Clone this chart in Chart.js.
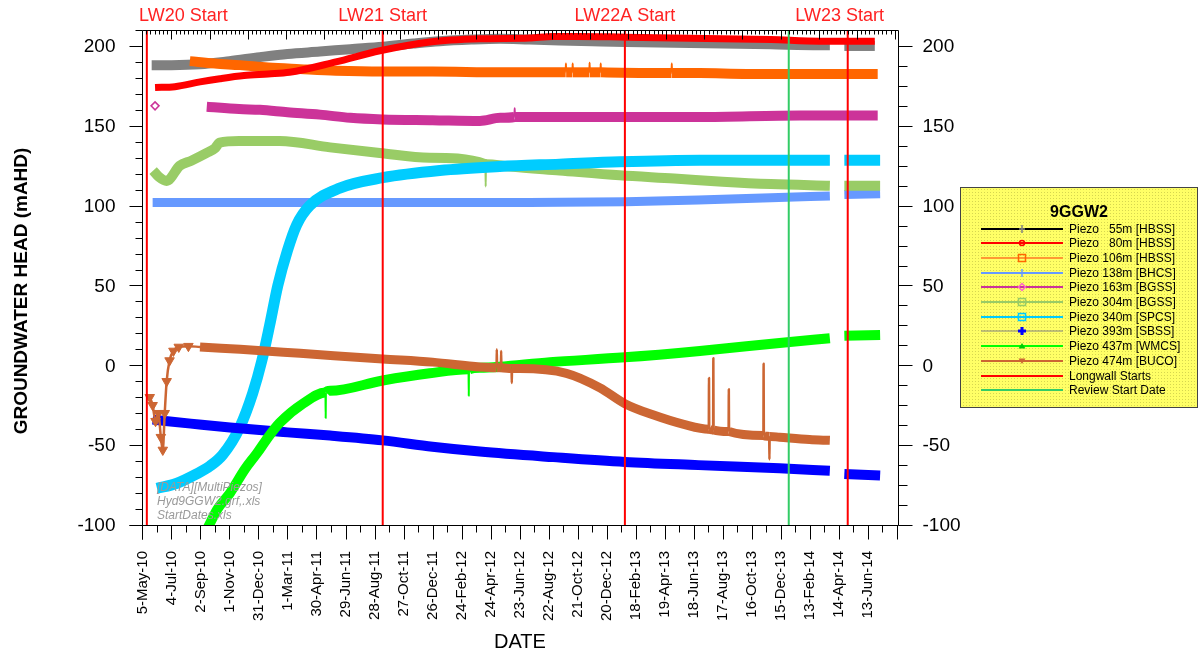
<!DOCTYPE html>
<html lang="en">
<head>
<meta charset="UTF-8">
<title>9GGW2 groundwater head</title>
<script src="https://cdn.jsdelivr.net/npm/chart.js@4.4.0/dist/chart.umd.min.js"></script>
<style>
  html, body { margin: 0; padding: 0; background: #fff; }
  #wrap { width: 1200px; height: 657px; }
</style>
</head>
<body>
<div id="wrap"><canvas id="myChart" width="1200" height="657"></canvas></div>
<script>
// x values are days after 5-May-10, y values are head in mAHD
const dateLabels = ['5-May-10', '4-Jul-10', '2-Sep-10', '1-Nov-10', '31-Dec-10', '1-Mar-11', '30-Apr-11', '29-Jun-11',
  '28-Aug-11', '27-Oct-11', '26-Dec-11', '24-Feb-12', '24-Apr-12', '23-Jun-12', '22-Aug-12', '21-Oct-12', '20-Dec-12',
  '18-Feb-13', '19-Apr-13', '18-Jun-13', '17-Aug-13', '16-Oct-13', '15-Dec-13', '13-Feb-14', '14-Apr-14', '13-Jun-14'];
const dateStep = 60;
const headTicks = [-100, -50, 0, 50, 100, 150, 200];

const p55Day = [19, 60, 119, 180, 243, 300, 367, 430, 497, 560, 615, 680, 740, 800, 863, 930, 1000, 1100, 1200, 1300, 1400, 1422, 1437, 1452, 1515];
const p55Head = [188, 188, 188.5, 190.5, 193, 195, 196.5, 198, 199.5, 201.5, 203, 204, 204.5, 204, 203.5, 203, 202.5, 202, 201.5, 201, 200.5, 200.5, null, 200, 200];

const p80Day = [26, 67, 119, 160, 210, 260, 304, 400, 491, 594, 698, 800, 849, 900, 1000, 1100, 1200, 1300, 1400, 1450, 1515];
const p80Head = [174, 174.5, 177.5, 179.5, 181.5, 182.5, 183.5, 190, 197, 202.5, 204.5, 205, 206, 206, 205.5, 205, 204.5, 204, 203, 203, 203];

const p106Day = [98, 150, 202, 260, 326, 400, 497, 600, 739, 875.5, 876, 876.5, 889.5, 890, 890.5, 924.5, 925, 925.5,
  947.5, 948, 948.5, 1094.5, 1095, 1095.5, 1153, 1250, 1360, 1450, 1521];
const p106Head = [190.5, 189, 188, 186.5, 185.5, 184.5, 184, 184, 183.5, 183.5, 189, 183.5, 183.5, 189, 183.5, 183.5, 189.5, 183.5,
  183.5, 189, 183.5, 183, 189, 183, 183, 182.5, 182.5, 182.5, 182.5];

const p138Day = [21, 200, 400, 600, 800, 1000, 1150, 1300, 1422, 1437, 1452, 1526];
const p138Head = [102, 102, 102, 102, 102, 102.5, 103.5, 105, 106, null, 107, 107.5];

const p163Day = [26, 80, 133, 200, 243, 300, 367, 430, 497, 600, 698, 740, 769.5, 770, 770.5, 800, 946, 1153, 1360, 1521];
const p163Head = [162.5, null, 162, 160.5, 160, 158.5, 157, 155, 154, 153.5, 153, 155, 155.5, 161, 155.5, 155.5, 155.5, 155.5, 156.5, 156.5];

const p304Day = [22, 34, 50, 77, 100, 133, 150, 160, 200, 284, 388, 491, 594, 709.5, 710, 710.5, 760, 863, 987, 1100, 1200, 1300, 1422, 1437, 1452, 1526];
const p304Head = [122, 118, 115.5, 125, 128, 133, 136, 139.5, 140.5, 140.5, 136.5, 133, 130, 126, 112, 126, 124.5, 122, 119, 117, 115, 113.5, 112.5, null, 112.5, 112.5];

const p340Day = [30, 70, 112, 140, 166, 201, 228, 247, 263, 280, 300, 319, 346, 408, 497, 615, 739, 863, 987, 1153, 1300, 1422, 1437, 1452, 1526];
const p340Head = [-77, -74, -68, -63, -56, -39, -17.5, 3, 25, 50, 72, 88, 100, 111, 117.5, 122, 124.5, 126, 127.5, 128.5, 128.5, 128.5, null, 128.5, 128.5];

const p393Day = [21, 100, 181, 300, 388, 497, 600, 698, 850, 998, 1150, 1318, 1422, 1437, 1452, 1526];
const p393Head = [-34, -36.5, -39, -42, -44, -47, -51, -54, -57.5, -60.5, -62.5, -64.5, -66, null, -68, -69];

const p437Day = [133, 155, 181, 212, 237, 260, 284, 332, 378.5, 379, 379.5, 388, 497, 594, 674.5, 675, 675.5, 698, 843, 998, 1153, 1318, 1422, 1437, 1452, 1526];
const p437Head = [-103, -90, -80, -65, -55, -45, -36, -24, -17, -33, -17, -16, -9.5, -5, -2.5, -19, -2.5, -1.5, 2, 5, 9, 14, 17, null, 18.5, 19];

const p474Day = [15, 21, 27, 33, 38, 42, 46, 50, 56, 64, 75, 95, 119, 202, 326, 497, 600, 698, 732.5, 733, 733.5, 741.5, 742, 742.5,
  763.5, 764, 764.5, 781, 877, 946, 998, 1056, 1120, 1171.5, 1172, 1172.5, 1180.5, 1181, 1181.5, 1212.5, 1213, 1213.5,
  1284.5, 1285, 1285.5, 1296.5, 1297, 1297.5, 1318, 1380, 1422];
const p474Head = [-20, -25, -35, -30, -45, -53, -30, -10, 3, 9, 11.5, 12, 11.5, 10, 7.5, 4, 2, -1, -1.5, 10, -1.5, -1.5, 9, -1.5,
  -2, -11, -2, -2, -5, -14, -24, -31, -37, -40, -8, -40, -40.5, 4.5, -40.5, -41.5, -15, -41.5,
  -44, 1, -44, -44.5, -59, -44.5, -45, -46.5, -47];

const longwallNames = ['LW20 Start', 'LW21 Start', 'LW22A Start', 'LW23 Start'];
const longwallDay = [9, 497, 998, 1459];
const reviewDay = 1337;

const seriesNames = ['Piezo   55m [HBSS]', 'Piezo   80m [HBSS]', 'Piezo 106m [HBSS]', 'Piezo 138m [BHCS]', 'Piezo 163m [BGSS]',
  'Piezo 304m [BGSS]', 'Piezo 340m [SPCS]', 'Piezo 393m [SBSS]', 'Piezo 437m [WMCS]', 'Piezo 474m [BUCO]'];

const pts = (days, heads) => days.map((d, i) => ({ x: d, y: heads[i] }));
const FONT = "Arial, 'Liberation Sans', sans-serif";

// thin strokes for spikes (near-vertical segments), band elsewhere
function series(label, days, heads, color, width, order, extra) {
  return Object.assign({
    label: label,
    data: pts(days, heads),
    borderColor: color,
    backgroundColor: color,
    borderWidth: width,
    borderJoinStyle: 'round',
    pointRadius: 0,
    spanGaps: false,
    cubicInterpolationMode: 'monotone',
    order: order,
    segment: {
      borderWidth: c => Math.abs(c.p1.parsed.x - c.p0.parsed.x) <= 0.6 ? 2 : undefined
    }
  }, extra || {});
}

function vline(day, color) {
  return {
    data: [{ x: day, y: -100 }, { x: day, y: 210 }],
    borderColor: color, borderWidth: 2, pointRadius: 0, order: 0
  };
}

const datasets = [
  series(seriesNames[0], p55Day, p55Head, '#808080', 10, 7),
  series(seriesNames[1], p80Day, p80Head, '#ff0000', 7, 1),
  series(seriesNames[2], p106Day, p106Head, '#ff6600', 10, 6),
  series(seriesNames[3], p138Day, p138Head, '#6699ff', 9, 10),
  series(seriesNames[4], p163Day, p163Head, '#cc3399', 10, 8, {
    pointRadius: c => c.dataIndex === 0 ? 4 : 0,
    pointStyle: 'rectRot', pointBackgroundColor: '#fff', pointBorderColor: '#cc3399', pointBorderWidth: 1.5
  }),
  series(seriesNames[5], p304Day, p304Head, '#99cc66', 10, 9),
  series(seriesNames[6], p340Day, p340Head, '#00ccff', 11, 5),
  series(seriesNames[7], p393Day, p393Head, '#0000ff', 10, 4),
  series(seriesNames[8], p437Day, p437Head, '#00ff00', 10, 3),
  series(seriesNames[9], p474Day, p474Head, '#cc6633', 9, 2, {
    segment: {
      borderWidth: c => (c.p0.parsed.x < 100 || Math.abs(c.p1.parsed.x - c.p0.parsed.x) <= 0.6) ? 2.5 : undefined
    },
    pointRadius: c => { const v = c.raw; return v && v.x < 100 ? 5.5 : 0; },
    pointBorderWidth: 1,
    pointBackgroundColor: '#cc6633',
    pointStyle: 'triangle', rotation: 180
  })
];
longwallDay.forEach(d => datasets.push(vline(d, '#ff0000')));
datasets.push(vline(reviewDay, '#33cc66'));

// legend marker styles (drawn by hand)
const legendStyle = [
  { line: '#000000', w: 2, mark: 'plus', mc: '#808080' },
  { line: '#ff0000', w: 2, mark: 'dot', mc: '#ff0000' },
  { line: '#ff9933', w: 2, mark: 'square', mc: '#ff6600' },
  { line: '#6699ff', w: 2, mark: 'plus', mc: '#6699ff' },
  { line: '#cc3399', w: 2, mark: 'diamond', mc: '#ff66cc' },
  { line: '#99cc66', w: 2, mark: 'square', mc: '#99cc66' },
  { line: '#00ccff', w: 2, mark: 'square', mc: '#00ccff' },
  { line: '#808080', w: 1, mark: 'cross', mc: '#0000ff' },
  { line: '#00ff00', w: 2, mark: 'tri', mc: '#00cc00' },
  { line: '#cc6633', w: 2, mark: 'tridown', mc: '#cc6633' }
];

function drawMark(ctx, kind, x, y, c) {
  ctx.save();
  ctx.strokeStyle = c; ctx.fillStyle = c; ctx.lineWidth = 1.5;
  ctx.beginPath();
  if (kind === 'plus') {
    ctx.moveTo(x - 3, y); ctx.lineTo(x + 3, y); ctx.moveTo(x, y - 4); ctx.lineTo(x, y + 4); ctx.stroke();
  } else if (kind === 'dot') {
    ctx.arc(x, y, 2.5, 0, Math.PI * 2); ctx.stroke();
  } else if (kind === 'square') {
    ctx.rect(x - 3.5, y - 3.5, 7, 7); ctx.stroke();
  } else if (kind === 'diamond') {
    ctx.moveTo(x, y - 3.5); ctx.lineTo(x + 3.5, y); ctx.lineTo(x, y + 3.5); ctx.lineTo(x - 3.5, y); ctx.closePath(); ctx.stroke();
  } else if (kind === 'cross') {
    ctx.lineWidth = 3; ctx.moveTo(x - 4, y); ctx.lineTo(x + 4, y); ctx.moveTo(x, y - 4); ctx.lineTo(x, y + 4); ctx.stroke();
  } else if (kind === 'tri') {
    ctx.moveTo(x, y - 3); ctx.lineTo(x + 3.5, y + 2.5); ctx.lineTo(x - 3.5, y + 2.5); ctx.closePath(); ctx.fill();
  } else if (kind === 'tridown') {
    ctx.moveTo(x, y + 3); ctx.lineTo(x + 3.5, y - 2.5); ctx.lineTo(x - 3.5, y - 2.5); ctx.closePath(); ctx.fill();
  }
  ctx.restore();
}

const frame = {
  id: 'frame',
  afterDraw(chart) {
    const { ctx, chartArea: a, scales } = chart;
    const x = scales.x, y = scales.y;
    const L = Math.round(a.left) + 0.5, R = Math.round(a.right) + 0.5;
    const T = Math.round(a.top) + 0.5, B = Math.round(a.bottom) + 0.5;
    ctx.save();
    ctx.strokeStyle = '#000';
    ctx.lineWidth = 1;
    ctx.beginPath();
    ctx.moveTo(L - 13, B); ctx.lineTo(R, B);
    ctx.moveTo(L, T); ctx.lineTo(R, T);
    ctx.moveTo(L, T); ctx.lineTo(L, B + 14);
    ctx.moveTo(R, T); ctx.lineTo(R, B);
    // bottom ticks
    for (let d = 0; d <= 1560; d += dateStep / 2) {
      const px = Math.round(x.getPixelForValue(d)) + 0.5;
      ctx.moveTo(px, B); ctx.lineTo(px, B + (d % dateStep === 0 ? 14 : 7));
    }
    // top ticks, inward
    for (let k = 0; ; k++) {
      const d = -18.75 + k * 8.75;
      if (d > 1563) break;
      const px = Math.round(x.getPixelForValue(d)) + 0.5;
      if (px <= L + 1 || px >= R - 1) continue;
      ctx.moveTo(px, T); ctx.lineTo(px, T + (k % 9 === 0 ? 9 : 4));
    }
    // left ticks
    for (let v = -100; v <= 210; v += 10) {
      const py = Math.round(y.getPixelForValue(v)) + 0.5;
      ctx.moveTo(L, py); ctx.lineTo(L - (v % 50 === 0 ? 13 : 7), py);
    }
    // right ticks
    for (let v = -100; v <= 210; v += 12.5) {
      const py = Math.round(y.getPixelForValue(v)) + 0.5;
      ctx.moveTo(R, py); ctx.lineTo(R + (v % 50 === 0 ? 14 : 9), py);
    }
    ctx.stroke();

    // head tick labels on both sides
    ctx.font = '19px ' + FONT;
    ctx.fillStyle = '#000';
    ctx.textBaseline = 'middle';
    headTicks.forEach(v => {
      const py = y.getPixelForValue(v);
      ctx.textAlign = 'right';
      ctx.fillText(String(v), L - 27, py + 1);
      ctx.textAlign = 'left';
      ctx.fillText(String(v), R + 24, py + 1);
    });

    // axis title
    ctx.save();
    ctx.translate(22, 291);
    ctx.rotate(-Math.PI / 2);
    ctx.textAlign = 'center';
    ctx.font = 'bold 19px ' + FONT;
    ctx.fillText('GROUNDWATER HEAD (mAHD)', 0, 0);
    ctx.restore();

    // longwall labels
    ctx.font = '18px ' + FONT;
    ctx.fillStyle = '#ff2222';
    ctx.textAlign = 'center';
    longwallNames.forEach((name, i) => {
      const px = x.getPixelForValue(longwallDay[i]);
      const w = ctx.measureText(name).width;
      let cx = Math.max(px, a.left - 3 + w / 2);
      cx = Math.min(cx, a.right - 14 - w / 2);
      ctx.fillText(name, cx, 16);
    });

    // file note
    ctx.font = 'italic 12px ' + FONT;
    ctx.fillStyle = '#9a9a9a';
    ctx.textAlign = 'left';
    ['[DATA][MultiPiezos]', 'Hyd9GGW2.grf,.xls', 'StartDates.xls'].forEach((t, i) => {
      ctx.fillText(t, a.left + 15, 488 + i * 14);
    });

    // legend box
    const bx = 960, by = 187, bw = 238, bh = 221;
    const tile = document.createElement('canvas');
    tile.width = 3; tile.height = 3;
    const tc = tile.getContext('2d');
    tc.fillStyle = '#ffff66'; tc.fillRect(0, 0, 3, 3);
    tc.fillStyle = '#d6d650'; tc.fillRect(0, 0, 1, 1);
    ctx.fillStyle = ctx.createPattern(tile, 'repeat');
    ctx.fillRect(bx, by, bw, bh);
    ctx.strokeStyle = '#444';
    ctx.strokeRect(bx + 0.5, by + 0.5, bw - 1, bh - 1);
    ctx.fillStyle = '#000';
    ctx.font = 'bold 16px ' + FONT;
    ctx.textAlign = 'center';
    ctx.fillText('9GGW2', 1079, 213);
    ctx.font = '12px ' + FONT;
    ctx.textAlign = 'left';
    const names = seriesNames.concat(['Longwall Starts', 'Review Start Date']);
    const styles = legendStyle.concat([{ line: '#ff0000', w: 2 }, { line: '#33cc66', w: 2 }]);
    names.forEach((n, i) => {
      const ry = Math.round(228.5 + i * 14.7);
      const s = styles[i];
      ctx.strokeStyle = s.line; ctx.lineWidth = s.w;
      ctx.beginPath(); ctx.moveTo(981, ry); ctx.lineTo(1063, ry); ctx.stroke();
      if (s.mark) drawMark(ctx, s.mark, 1022, ry, s.mc);
      ctx.fillStyle = '#000';
      ctx.fillText(n, 1069, ry + 1);
    });
    ctx.restore();
  }
};

new Chart(document.getElementById('myChart'), {
  type: 'line',
  data: { datasets: datasets },
  options: {
    responsive: false,
    animation: false,
    layout: { padding: { left: 0, right: 242, top: 30, bottom: 0 } },
    plugins: { legend: { display: false }, tooltip: { enabled: false } },
    scales: {
      x: {
        type: 'linear', min: -1, max: 1563,
        afterBuildTicks: s => { s.ticks = dateLabels.map((t, i) => ({ value: i * dateStep })); },
        afterFit: s => { s.height = 132; },
        ticks: {
          callback: (v, i) => dateLabels[i], autoSkip: false,
          minRotation: 90, maxRotation: 90, padding: 26,
          color: '#000', font: { family: FONT, size: 15 }
        },
        grid: { display: false, drawTicks: false },
        border: { display: false },
        title: { display: true, text: 'DATE', color: '#000', font: { family: FONT, size: 20 }, padding: { top: 0, bottom: 3 } }
      },
      y: {
        position: 'left', min: -100, max: 210,
        afterFit: s => { s.width = 142; },
        ticks: { display: false },
        grid: { display: false, drawTicks: false },
        border: { display: false }
      },
      y2: {
        position: 'right', min: -100, max: 210,
        afterFit: s => { s.width = 60; },
        ticks: { display: false },
        grid: { display: false, drawTicks: false },
        border: { display: false }
      }
    }
  },
  plugins: [frame]
});
</script>
</body>
</html>
